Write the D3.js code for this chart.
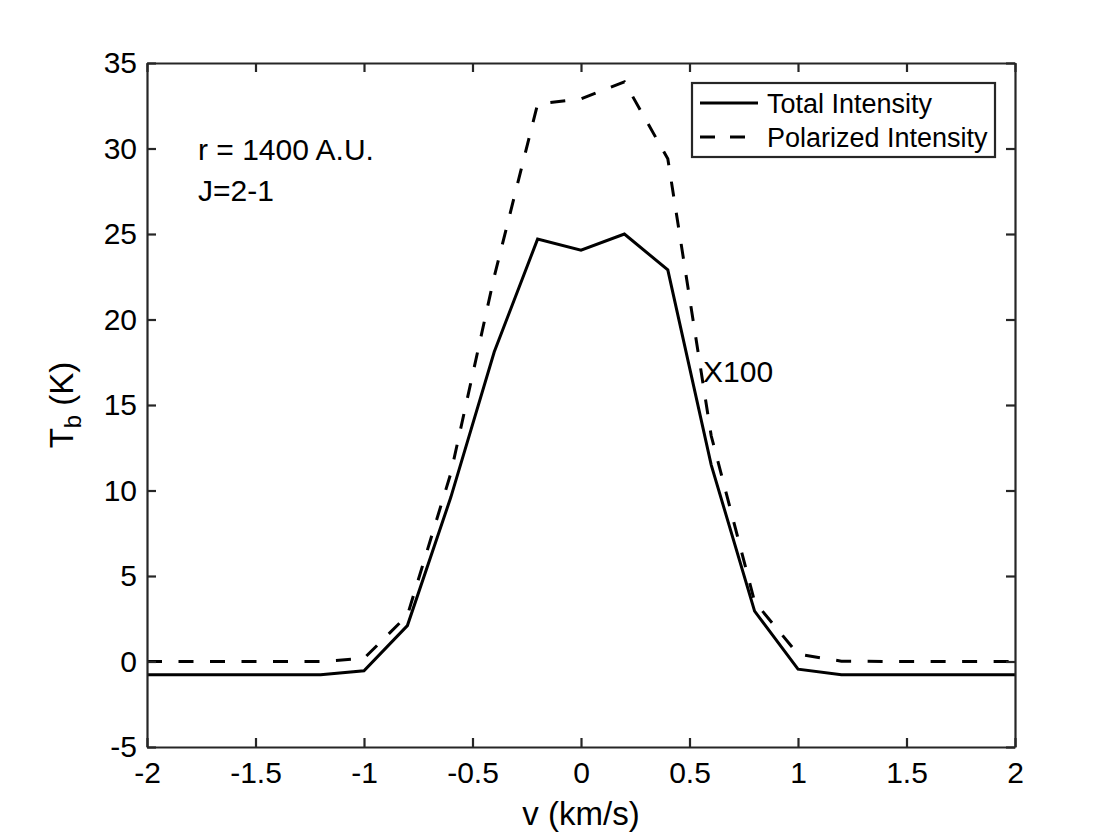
<!DOCTYPE html>
<html lang="en">
<head>
    <meta charset="UTF-8">
    <script src="https://d3js.org/d3.v7.min.js"></script>
    <title>Tb profile</title>
    <style>
        body { margin: 0; background: #fff; }
        text { font-family: "Liberation Sans", Arial, Helvetica, sans-serif; fill: #000; }
    </style>
</head>
<body>
    <div class="fig"></div>
    <script>
        // velocity channels (km/s)
        const velocity = [-2, -1.8, -1.6, -1.4, -1.2, -1, -0.8, -0.6, -0.4, -0.2, 0,
                          0.2, 0.4, 0.6, 0.8, 1, 1.2, 1.4, 1.6, 1.8, 2];
        // total intensity Tb (K)
        const totalIntensity = [-0.77, -0.77, -0.77, -0.77, -0.77, -0.54, 2.1, 9.6, 18.1, 24.7, 24.05,
                                25.0, 22.9, 11.5, 2.95, -0.45, -0.77, -0.77, -0.77, -0.77, -0.77];
        // polarized intensity, already scaled x100
        const polarizedIntensity = [0, 0, 0, 0, 0, 0.18, 2.7, 11.0, 22.5, 32.6, 32.9,
                                    33.9, 29.4, 13.2, 3.5, 0.43, 0.02, 0, 0, 0, 0];

        const xTicks = [-2, -1.5, -1, -0.5, 0, 0.5, 1, 1.5, 2];
        const yTicks = [-5, 0, 5, 10, 15, 20, 25, 30, 35];
        const seriesNames = ["Total Intensity", "Polarized Intensity"];

        const width = 1120, height = 840;
        const margin = { left: 147, right: 105, top: 63, bottom: 93 };
        const axisColor = "#262626";
        const fontSize = 30;        // ticks + text annotations
        const legendFont = 27;      // legend is 0.9x
        const labelFont = 33;       // axis labels are 1.1x

        const svg = d3.select(".fig").append("svg")
            .attr("width", width)
            .attr("height", height);

        const x = d3.scaleLinear().domain([-2, 2]).range([margin.left, width - margin.right]);
        const y = d3.scaleLinear().domain([-5, 35]).range([height - margin.bottom, margin.top]);

        // data lines
        const line = d3.line().x((d, i) => x(velocity[i])).y(d => y(d));

        svg.append("path")
            .datum(totalIntensity)
            .attr("d", line)
            .attr("fill", "none")
            .attr("stroke", "#000")
            .attr("stroke-width", 3);

        svg.append("path")
            .datum(polarizedIntensity)
            .attr("d", line)
            .attr("fill", "none")
            .attr("stroke", "#000")
            .attr("stroke-width", 3)
            .attr("stroke-dasharray", "15,16.5");

        // axes, ticks inward on all four sides (box on)
        const tickLen = 9;
        const fmt = d => String(d);   // plain hyphen minus like matlab
        const bottomAxis = d3.axisBottom(x).tickValues(xTicks).tickSizeInner(-tickLen).tickSizeOuter(0)
            .tickPadding(15).tickFormat(fmt);
        const topAxis = d3.axisTop(x).tickValues(xTicks).tickSizeInner(-tickLen).tickSizeOuter(0).tickFormat("");
        const leftAxis = d3.axisLeft(y).tickValues(yTicks).tickSizeInner(-tickLen).tickSizeOuter(0)
            .tickPadding(10).tickFormat(fmt);
        const rightAxis = d3.axisRight(y).tickValues(yTicks).tickSizeInner(-tickLen).tickSizeOuter(0).tickFormat("");

        const styleAxis = g => {
            g.selectAll("path, line").attr("stroke", axisColor).attr("stroke-width", 2.2);
            g.selectAll("text").attr("font-size", fontSize).attr("fill", "#000")
                .style("font-family", "'Liberation Sans', Arial, sans-serif");
        };

        svg.append("g").attr("transform", `translate(0,${y(-5)})`).call(bottomAxis).call(styleAxis);
        svg.append("g").attr("transform", `translate(0,${y(35)})`).call(topAxis).call(styleAxis);
        svg.append("g").attr("transform", `translate(${x(-2)},0)`).call(leftAxis).call(styleAxis);
        svg.append("g").attr("transform", `translate(${x(2)},0)`).call(rightAxis).call(styleAxis);

        // axis labels
        svg.append("text")
            .attr("x", x(0))
            .attr("y", 825)
            .attr("text-anchor", "middle")
            .attr("font-size", labelFont)
            .text("v (km/s)");

        const yLabel = svg.append("text")
            .attr("transform", `translate(73,${y(15)}) rotate(-90)`)
            .attr("text-anchor", "middle")
            .attr("font-size", labelFont);
        yLabel.append("tspan").text("T");
        yLabel.append("tspan").attr("font-size", 24).attr("dy", 8).text("b");
        yLabel.append("tspan").attr("dy", -8).text(" (K)");

        // annotations
        svg.append("text").attr("x", 198).attr("y", 160).attr("font-size", fontSize).text("r = 1400 A.U.");
        svg.append("text").attr("x", 198).attr("y", 201).attr("font-size", fontSize).text("J=2-1");
        svg.append("text").attr("x", 703).attr("y", 382).attr("font-size", fontSize).text("X100");

        // legend
        const legend = svg.append("g");
        legend.append("rect")
            .attr("x", 692).attr("y", 83)
            .attr("width", 303).attr("height", 74)
            .attr("fill", "#fff")
            .attr("stroke", axisColor)
            .attr("stroke-width", 2.2);

        seriesNames.forEach((name, i) => {
            const ly = 103 + i * 34;
            legend.append("line")
                .attr("x1", 700).attr("x2", 758)
                .attr("y1", ly).attr("y2", ly)
                .attr("stroke", "#000")
                .attr("stroke-width", 3)
                .attr("stroke-dasharray", i === 0 ? null : "15,15");
            legend.append("text")
                .attr("x", 767).attr("y", ly + 10)
                .attr("font-size", legendFont)
                .text(name);
        });
    </script>
</body>
</html>
